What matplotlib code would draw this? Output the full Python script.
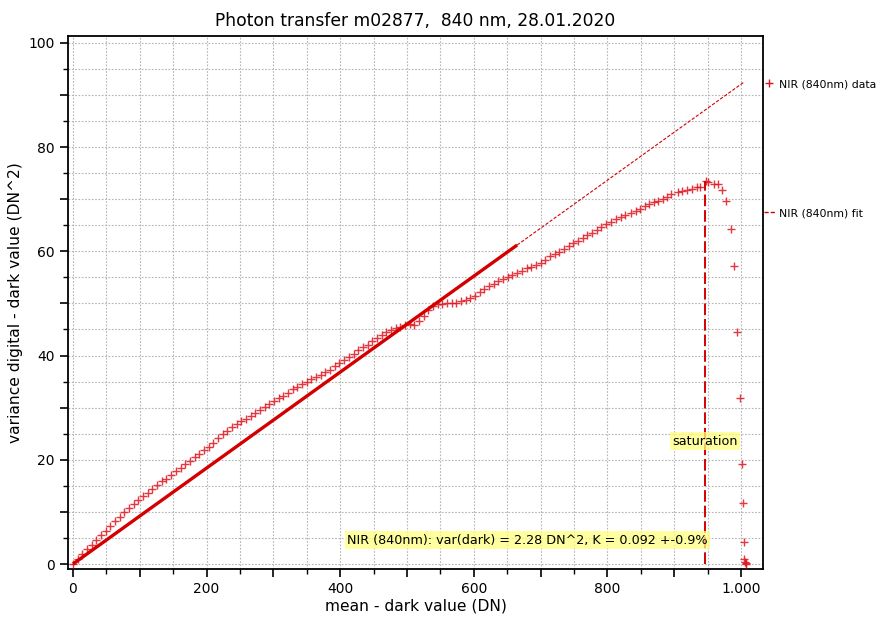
"""
Photon transfer curve for m02877 at 840 nm: variance vs. mean (dark subtracted),
with the linear fit and the saturation marker.
"""

import matplotlib
matplotlib.use('Agg')
import matplotlib.pyplot as plt
from matplotlib.lines import Line2D
from matplotlib.ticker import MultipleLocator, FuncFormatter

# Measured points: mean - dark (DN) and variance - dark (DN^2).
mean_dn = [
    0, 7, 14, 21, 28, 35, 42, 49, 56, 63, 70, 77, 84, 91, 98, 105, 112, 119, 126, 133,
    140, 147, 154, 161, 168, 175, 182, 189, 196, 203, 210, 217, 224, 231, 238, 245, 252,
    259, 266, 273, 280, 287, 294, 301, 308, 315, 322, 329, 336, 343, 350, 357, 364, 371,
    378, 385, 392, 399, 406, 413, 420, 427, 434, 441, 448, 455, 462, 469, 476, 483, 490,
    497, 504, 511, 518, 525, 532, 539, 546, 553, 560, 567, 574, 581, 588, 595, 602, 609,
    616, 623, 630, 637, 644, 651, 658, 665, 672, 679, 686, 693, 700, 707, 714, 721, 728,
    735, 742, 749, 756, 763, 770, 777, 784, 791, 798, 806, 813, 820, 827, 836, 843, 849,
    856, 863, 870, 876, 883, 889, 896, 906, 912, 919, 926, 934, 939, 948, 951, 959, 965,
    972, 978, 985, 990, 994, 998, 1002, 1003, 1004, 1005, 1006, 1007, 1008,
]
variance_dn2 = [
    0.0, 1.0, 1.9, 2.8, 3.7, 4.6, 5.5, 6.4, 7.3, 8.2, 9.1, 9.9, 10.7, 11.5, 12.3, 13.0,
    13.6, 14.4, 15.2, 15.9, 16.4, 17.1, 17.8, 18.4, 19.1, 19.8, 20.5, 21.1, 21.8, 22.5,
    23.3, 24.2, 24.9, 25.5, 26.2, 26.8, 27.4, 27.9, 28.4, 29.0, 29.6, 30.2, 30.7, 31.2,
    31.8, 32.3, 32.9, 33.5, 34.0, 34.5, 35.0, 35.5, 35.9, 36.3, 36.8, 37.3, 37.9, 38.5,
    39.1, 39.7, 40.3, 41.0, 41.6, 42.1, 42.7, 43.4, 44.0, 44.6, 44.9, 45.2, 45.5, 45.8,
    46.0, 45.9, 46.6, 47.6, 48.7, 49.5, 49.8, 49.9, 50.0, 50.0, 50.1, 50.4, 50.7, 51.1,
    51.5, 52.1, 52.7, 53.3, 53.8, 54.3, 54.7, 55.0, 55.4, 55.8, 56.3, 56.7, 57.0, 57.4,
    57.8, 58.4, 59.0, 59.4, 59.9, 60.4, 61.0, 61.5, 62.0, 62.5, 63.1, 63.6, 64.1, 64.6,
    65.2, 65.7, 66.2, 66.5, 67.0, 67.4, 67.8, 68.1, 68.6, 69.1, 69.4, 69.7, 70.1, 70.4,
    70.9, 71.3, 71.5, 71.7, 72.0, 72.3, 72.4, 73.4, 73.3, 72.9, 72.9, 71.8, 69.7, 64.3,
    57.2, 44.5, 31.9, 19.1, 11.7, 4.3, 0.9, 0.3, 0.0, 0.2,
]

# Linear fit (K = 0.092): fitted range and its extension.
fit_x = [0, 665]
fit_y = [0.0, 61.2]
ext_x = [665, 1005]
ext_y = [61.2, 92.5]

# Saturation point.
sat_x = 946.6
sat_y = 73.4

TITLE = 'Photon transfer m02877,  840 nm, 28.01.2020'
NOTE = 'NIR (840nm): var(dark) = 2.28 DN^2, K = 0.092 +-0.9%'

RED = '#d40000'
MARK = '#e0141e'
YELLOW = '#ffff80'


def thousands(v, pos):
    """Label only every 200 DN, German style thousands separator."""
    if round(v) % 200:
        return ''
    return f'{int(round(v)):,}'.replace(',', '.')


def tens(v, pos):
    if round(v) % 20:
        return ''
    return f'{int(round(v))}'


def main():
    fig = plt.figure(figsize=(8.78, 6.21), dpi=100)
    ax = fig.add_axes([0.0774, 0.0837, 0.7916, 0.8583])

    # Data, fit and saturation marker.
    ax.plot(mean_dn, variance_dn2, linestyle='none', marker='+', markersize=5.5,
            markeredgewidth=1.0, color=MARK, alpha=0.85, zorder=3)
    ax.plot(fit_x, fit_y, color=RED, linewidth=2.4, solid_capstyle='butt', zorder=4)
    ax.plot(ext_x, ext_y, color=RED, linewidth=0.8, linestyle=(0, (3, 1.5)), zorder=4)
    ax.plot([sat_x, sat_x], [0, sat_y], color=RED, linewidth=1.4,
            linestyle=(0, (6, 2)), zorder=4)

    box = dict(facecolor=YELLOW, alpha=0.75, edgecolor='none', pad=1.5)
    ax.text(sat_x, 23.6, 'saturation', ha='center', va='center', fontsize=9.2,
            bbox=box, zorder=5)
    ax.text(410, 4.6, NOTE, ha='left', va='center', fontsize=9.2, bbox=box, zorder=5)

    # Axes, ticks and grid.
    ax.set_xlim(-7.5, 1033)
    ax.set_ylim(-0.96, 101.3)
    ax.xaxis.set_major_locator(MultipleLocator(100))
    ax.xaxis.set_minor_locator(MultipleLocator(50))
    ax.yaxis.set_major_locator(MultipleLocator(10))
    ax.yaxis.set_minor_locator(MultipleLocator(5))
    ax.xaxis.set_major_formatter(FuncFormatter(thousands))
    ax.yaxis.set_major_formatter(FuncFormatter(tens))
    ax.tick_params(which='major', direction='out', length=6, width=1.2,
                   labelsize=10, top=False, right=False)
    ax.tick_params(which='minor', direction='out', length=3.5, width=1.0,
                   top=False, right=False)
    ax.grid(which='both', color='#b4b4b4', linestyle=(0, (1.5, 1.5)), linewidth=0.8)
    ax.set_axisbelow(True)
    for sp in ax.spines.values():
        sp.set_linewidth(1.3)

    ax.set_title(TITLE, fontsize=12.3, pad=7)
    ax.set_xlabel('mean - dark value (DN)', fontsize=11.2, labelpad=2)
    ax.set_ylabel('variance digital - dark value (DN^2)', fontsize=11.2, labelpad=4)

    # Legend entries sit outside the axes, far apart.
    h_data = Line2D([], [], linestyle='none', marker='+', markersize=5.5,
                    markeredgewidth=1.0, color=MARK)
    h_fit = Line2D([], [], color=RED, linewidth=1.0, linestyle=(0, (3, 1.5)))
    for handle, label, y in [(h_data, 'NIR (840nm) data', 0.8647),
                             (h_fit, 'NIR (840nm) fit', 0.657)]:
        fig.legend([handle], [label], loc='center left', bbox_to_anchor=(0.870, y),
                   frameon=False, fontsize=7.8, handlelength=1.0, handletextpad=0.4,
                   borderaxespad=0, borderpad=0)

    fig.savefig('out.png', dpi=100)


if __name__ == '__main__':
    main()
